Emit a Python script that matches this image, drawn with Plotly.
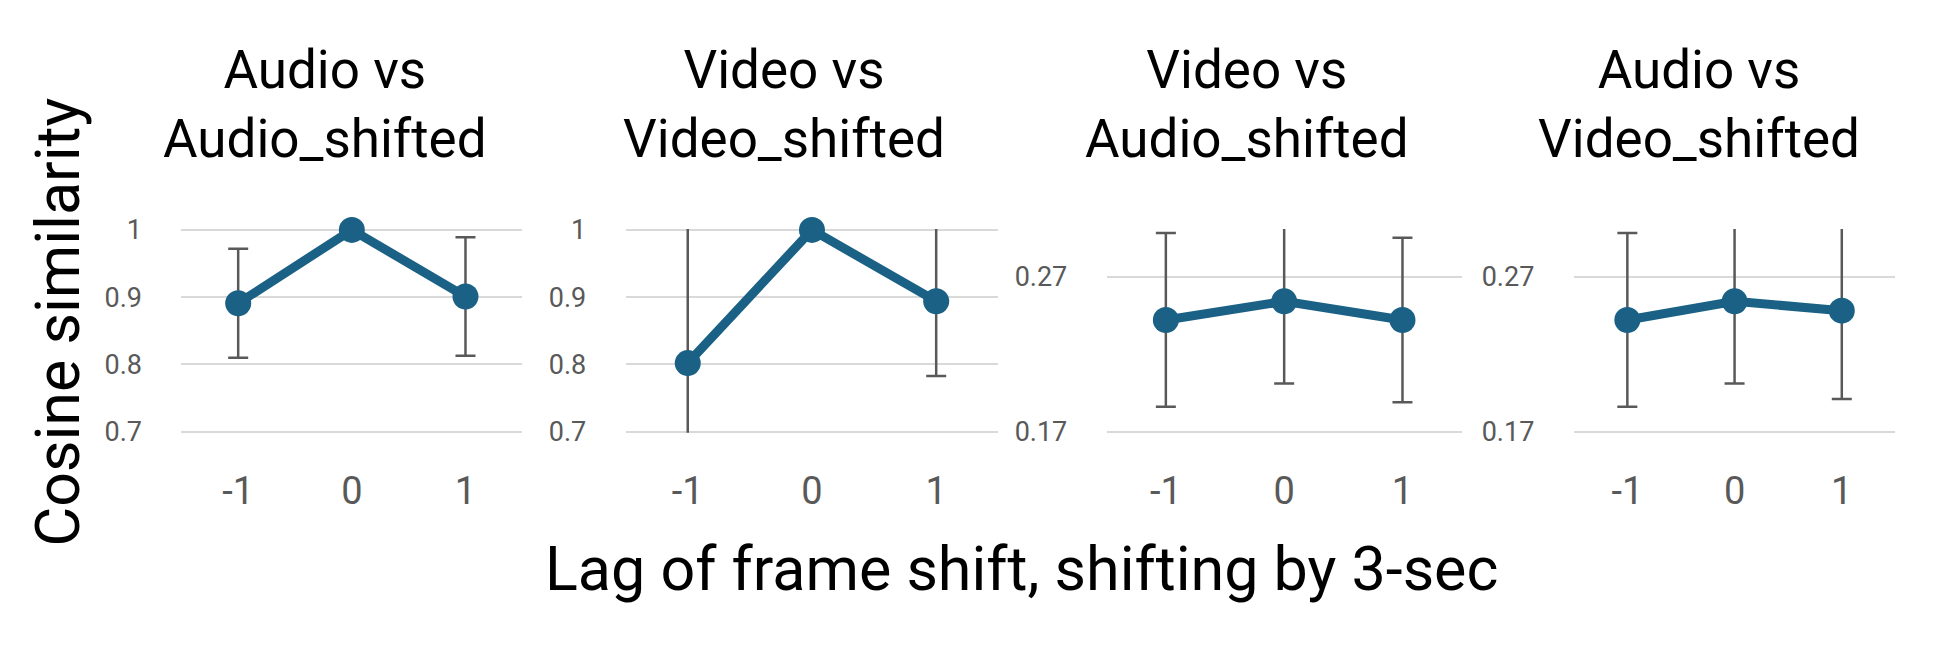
import plotly.graph_objects as go
from plotly.subplots import make_subplots

# lag of the frame shift (x categories)
lags = [-1, 0, 1]

# panel titles
titles = ["Audio vs<br>Audio_shifted", "Video vs<br>Video_shifted",
          "Video vs<br>Audio_shifted", "Audio vs<br>Video_shifted"]

# mean cosine similarity per panel
mean_aa = [0.891, 1.0, 0.901]
mean_vv = [0.802, 1.0, 0.894]
mean_va = [0.242, 0.254, 0.242]
mean_av = [0.242, 0.254, 0.248]

# error bar half-widths per panel
err_aa = [0.081, 0.0, 0.088]
err_vv = [0.21, 0.0, 0.111]
err_va = [0.056, 0.053, 0.053]
err_av = [0.056, 0.053, 0.057]

# y axis ranges and ticks per panel (padded a hair so edge gridlines show)
y_ranges = [[0.6985, 1.0015], [0.6985, 1.0015], [0.1693, 0.3007], [0.1693, 0.3007]]
y_ticks = [[0.7, 0.8, 0.9, 1.0], [0.7, 0.8, 0.9, 1.0], [0.17, 0.27], [0.17, 0.27]]
y_ticktext = [["0.7", "0.8", "0.9", "1"], ["0.7", "0.8", "0.9", "1"],
              ["0.17", "0.27"], ["0.17", "0.27"]]

means = [mean_aa, mean_vv, mean_va, mean_av]
errs = [err_aa, err_vv, err_va, err_av]

LINE_COLOR = "#1a6185"
ERR_COLOR = "#595959"
TICK_COLOR = "#595959"
FONT = "Roboto"

# panel placement (paper coordinates)
x_domains = [[0.0932, 0.2684], [0.3215, 0.5130], [0.5687, 0.7511], [0.8087, 0.9740]]
title_x = [0.1669, 0.4030, 0.6407, 0.8732]
y_domain = [0.3246, 0.6534]

fig = make_subplots(rows=1, cols=4)

for i in range(4):
    fig.add_trace(go.Scatter(
        x=lags, y=means[i],
        mode="lines+markers",
        line=dict(color=LINE_COLOR, width=9),
        marker=dict(color=LINE_COLOR, size=26),
        error_y=dict(type="data", array=errs[i], visible=True,
                     color=ERR_COLOR, thickness=2.5, width=10),
        cliponaxis=False,
        showlegend=False,
        hoverinfo="x+y",
    ), row=1, col=i + 1)

    fig.update_xaxes(
        domain=x_domains[i], range=[-1.5, 1.5],
        tickvals=lags, ticktext=[str(v) for v in lags],
        showgrid=False, zeroline=False, showline=False,
        ticks="outside", ticklen=25, tickcolor="rgba(0,0,0,0)",
        tickfont=dict(family=FONT, size=38, color=TICK_COLOR),
        row=1, col=i + 1)

    fig.update_yaxes(
        domain=y_domain, range=y_ranges[i],
        tickvals=y_ticks[i], ticktext=y_ticktext[i],
        showgrid=True, gridcolor="#d9d9d9", gridwidth=2,
        zeroline=False, showline=False,
        ticks="outside", ticklen=33, tickcolor="rgba(0,0,0,0)",
        tickfont=dict(family=FONT, size=27, color=TICK_COLOR),
        row=1, col=i + 1)

    fig.add_annotation(
        text=titles[i], x=title_x[i], y=0.854,
        xref="paper", yref="paper", xanchor="center", yanchor="middle",
        showarrow=False, align="center",
        font=dict(family=FONT, size=53, color="black"))

fig.add_annotation(
    text="Lag of frame shift, shifting by 3-sec",
    x=0.525, y=0.105, xref="paper", yref="paper",
    xanchor="center", yanchor="middle", showarrow=False,
    font=dict(family=FONT, size=61, color="black"))

fig.add_annotation(
    text="Cosine similarity",
    x=0.030, y=0.503, xref="paper", yref="paper",
    xanchor="center", yanchor="middle", showarrow=False, textangle=-90,
    font=dict(family=FONT, size=61, color="black"))

fig.update_layout(
    width=1946, height=649,
    margin=dict(l=0, r=0, t=0, b=0),
    paper_bgcolor="white", plot_bgcolor="white",
    font=dict(family=FONT),
)

# drop the default page margin so the figure sits at the window's corner
fig.write_html("out.html", config={"displayModeBar": False},
               post_script="document.body.style.margin='0';")
